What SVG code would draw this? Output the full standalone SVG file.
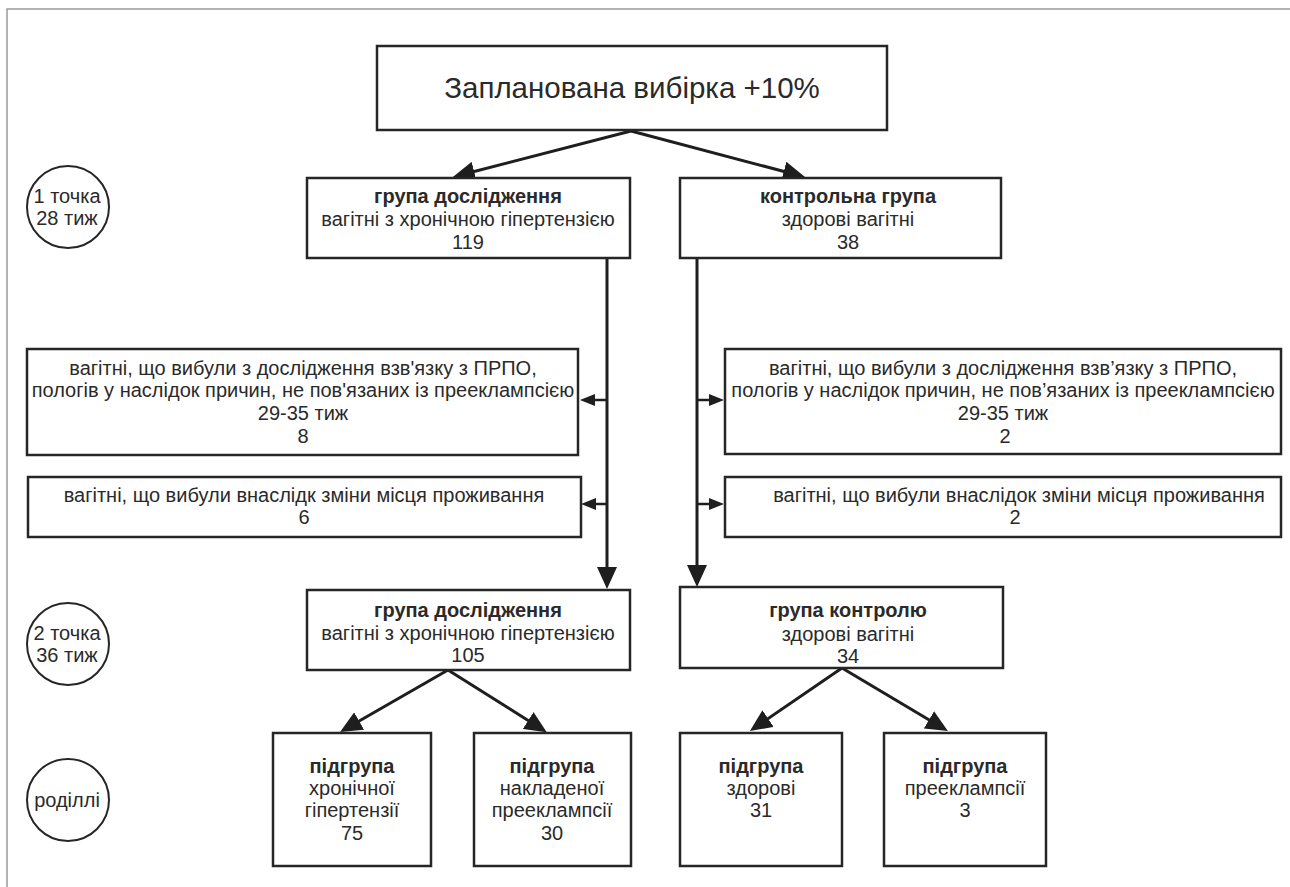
<svg xmlns="http://www.w3.org/2000/svg" width="1290" height="887" viewBox="0 0 1290 887">
<defs>
<style>
.box{fill:#fff;stroke:#262626;stroke-width:2.5}
.circ{fill:#fff;stroke:#262626;stroke-width:2}
.t{font-family:"Liberation Sans",Arial,sans-serif;font-size:20px;fill:#2a2a2a;text-anchor:middle}
.b{font-weight:bold}
.title{font-size:29.5px}
.frame{stroke:#9a9a9a;stroke-width:1.5;fill:none}
.conn{stroke:#1e1e1e;stroke-width:3;fill:none}
.side{stroke:#1e1e1e;stroke-width:2.5;fill:none}
</style>
<marker id="big" markerUnits="userSpaceOnUse" markerWidth="24" markerHeight="20" refX="14" refY="10" orient="auto">
<path d="M0,0 L22,10 L0,20 z" fill="#1e1e1e"/>
</marker>
<marker id="small" markerUnits="userSpaceOnUse" markerWidth="16" markerHeight="14" refX="9" refY="6" orient="auto">
<path d="M0,0 L15,6 L0,12 z" fill="#1e1e1e"/>
</marker>
</defs>
<rect width="1290" height="887" fill="#fff"/>
<path class="frame" d="M7,887 L7,9 L1290,9"/>

<g id="connectors">
<line class="conn" x1="631" y1="131" x2="460.6" y2="175" marker-end="url(#big)"/>
<line class="conn" x1="631" y1="131" x2="797.3" y2="175" marker-end="url(#big)"/>
<line class="conn" x1="607" y1="258" x2="607" y2="581" marker-end="url(#big)"/>
<line class="conn" x1="697" y1="258" x2="697" y2="579" marker-end="url(#big)"/>
<line class="side" x1="607" y1="400" x2="586" y2="400" marker-end="url(#small)"/>
<line class="side" x1="607" y1="504" x2="587" y2="504" marker-end="url(#small)"/>
<line class="side" x1="697" y1="400" x2="718" y2="400" marker-end="url(#small)"/>
<line class="side" x1="697" y1="504" x2="718" y2="504" marker-end="url(#small)"/>
<line class="conn" x1="448" y1="670" x2="347" y2="728" marker-end="url(#big)"/>
<line class="conn" x1="448" y1="670" x2="540" y2="728" marker-end="url(#big)"/>
<line class="conn" x1="842" y1="668" x2="756.5" y2="726.5" marker-end="url(#big)"/>
<line class="conn" x1="842" y1="668" x2="941" y2="727" marker-end="url(#big)"/>
</g>

<g id="title">
<rect class="box" x="377" y="46" width="510" height="84"/>
<text class="t title" x="632" y="98">Запланована вибірка +10%</text>
</g>

<g id="circle1">
<circle class="circ" cx="68" cy="207" r="41"/>
<text class="t" x="67" y="203">1 точка</text>
<text class="t" x="67" y="225">28 тиж</text>
</g>
<g id="circle2">
<circle class="circ" cx="68" cy="644" r="41"/>
<text class="t" x="67" y="640">2 точка</text>
<text class="t" x="67" y="662">36 тиж</text>
</g>
<g id="circle3">
<circle class="circ" cx="68" cy="800" r="41"/>
<text class="t" x="67" y="807">роділлі</text>
</g>

<g id="study1">
<rect class="box" x="307" y="178" width="323" height="80"/>
<text class="t b" x="468" y="203">група дослідження</text>
<text class="t" x="468" y="226">вагітні з хронічною гіпертензією</text>
<text class="t" x="468" y="249">119</text>
</g>
<g id="control1">
<rect class="box" x="680" y="178" width="321" height="80"/>
<text class="t b" x="848" y="203">контрольна група</text>
<text class="t" x="848" y="226">здорові вагітні</text>
<text class="t" x="848" y="249">38</text>
</g>

<g id="dropL1">
<rect class="box" x="27" y="349" width="551" height="106"/>
<text class="t" x="303" y="375">вагітні, що вибули з дослідження взв'язку з ПРПО,</text>
<text class="t" x="303" y="397">пологів у наслідок причин, не пов'язаних із прееклампсією</text>
<text class="t" x="303" y="420">29-35 тиж</text>
<text class="t" x="303" y="443">8</text>
</g>
<g id="dropL2">
<rect class="box" x="28" y="477" width="553" height="60"/>
<text class="t" x="304" y="502">вагітні, що вибули внаслідк зміни місця проживання</text>
<text class="t" x="304" y="524">6</text>
</g>
<g id="dropR1">
<rect class="box" x="725" y="349" width="556" height="105"/>
<text class="t" x="1003" y="375">вагітні, що вибули з дослідження взв’язку з ПРПО,</text>
<text class="t" x="1003" y="397">пологів у наслідок причин, не пов’язаних із прееклампсією</text>
<text class="t" x="1003" y="420">29-35 тиж</text>
<text class="t" x="1005" y="443">2</text>
</g>
<g id="dropR2">
<rect class="box" x="725" y="477" width="556" height="60"/>
<text class="t" x="1019" y="502">вагітні, що вибули внаслідок зміни місця проживання</text>
<text class="t" x="1015" y="524">2</text>
</g>

<g id="study2">
<rect class="box" x="307" y="590" width="323" height="80"/>
<text class="t b" x="468" y="617">група дослідження</text>
<text class="t" x="468" y="640">вагітні з хронічною гіпертензією</text>
<text class="t" x="468" y="662">105</text>
</g>
<g id="control2">
<rect class="box" x="680" y="587" width="323" height="81"/>
<text class="t b" x="848" y="617">група контролю</text>
<text class="t" x="848" y="641">здорові вагітні</text>
<text class="t" x="848" y="663">34</text>
</g>

<g id="sub1">
<rect class="box" x="273" y="733" width="158" height="133"/>
<text class="t b" x="352" y="773">підгрупа</text>
<text class="t" x="352" y="795">хронічної</text>
<text class="t" x="352" y="817">гіпертензії</text>
<text class="t" x="352" y="840">75</text>
</g>
<g id="sub2">
<rect class="box" x="474" y="733" width="157" height="133"/>
<text class="t b" x="552" y="773">підгрупа</text>
<text class="t" x="552" y="795">накладеної</text>
<text class="t" x="552" y="817">прееклампсії</text>
<text class="t" x="552" y="840">30</text>
</g>
<g id="sub3">
<rect class="box" x="680" y="733" width="162" height="133"/>
<text class="t b" x="761" y="773">підгрупа</text>
<text class="t" x="761" y="795">здорові</text>
<text class="t" x="761" y="817">31</text>
</g>
<g id="sub4">
<rect class="box" x="884" y="733" width="162" height="133"/>
<text class="t b" x="965" y="773">підгрупа</text>
<text class="t" x="965" y="795">прееклампсії</text>
<text class="t" x="965" y="817">3</text>
</g>
</svg>
